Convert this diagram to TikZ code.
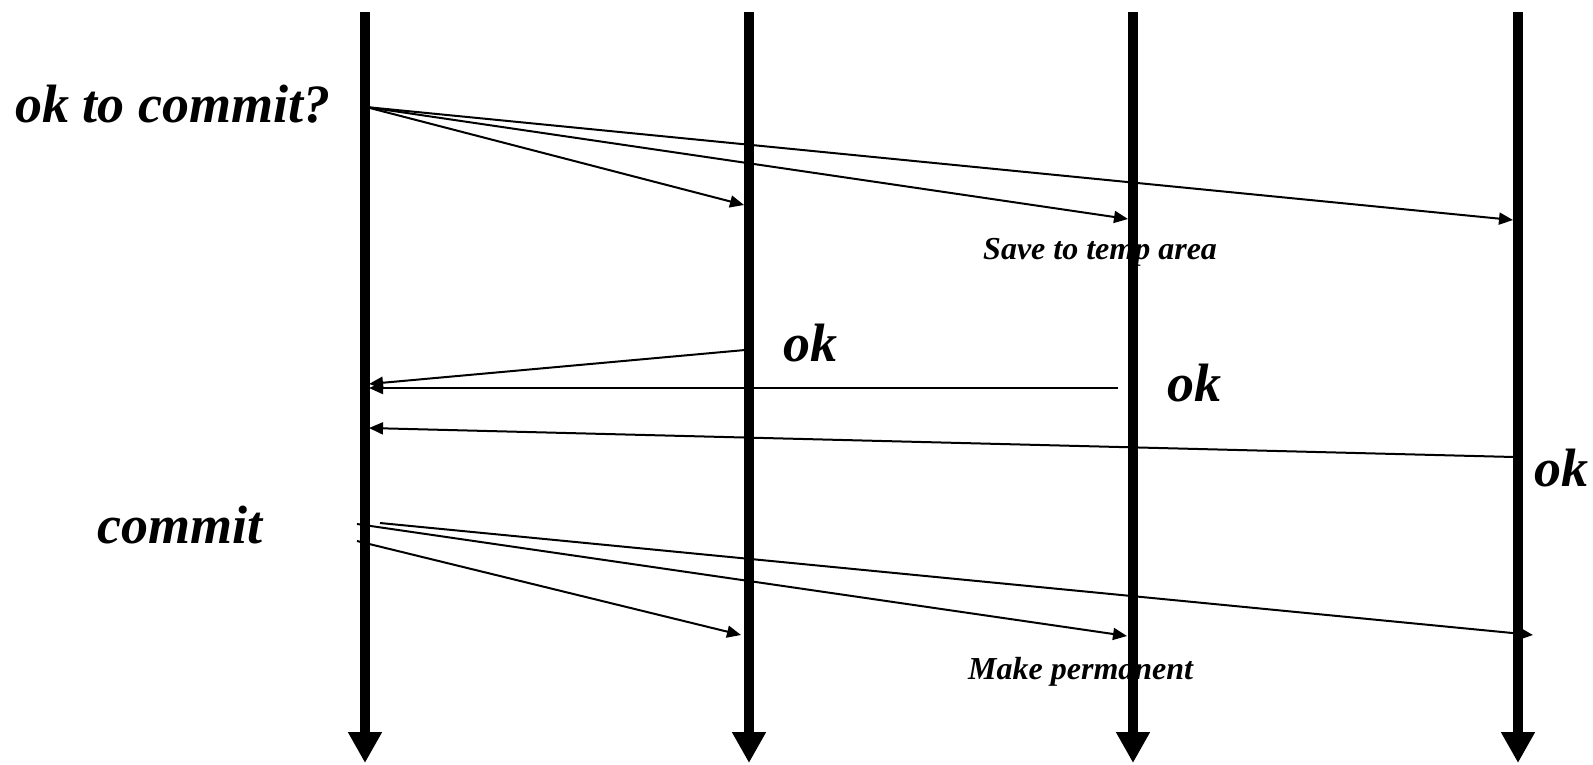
\documentclass[tikz,border=0pt]{standalone}
\usepackage{fontspec}
\setmainfont{Liberation Serif}
\usetikzlibrary{arrows.meta}
\begin{document}
\begin{tikzpicture}[x=1pt,y=-1pt,
  lifeline/.style={line width=10pt,-{Triangle[length=31pt,width=32pt]}},
  msg/.style={line width=2pt,-{Triangle[length=14pt,width=12pt]}},
  big/.style={font=\fontsize{54}{62}\selectfont\bfseries\itshape,inner sep=0pt},
  small/.style={font=\fontsize{32}{38}\selectfont\bfseries\itshape,inner sep=0pt}]
\useasboundingbox (0,0) rectangle (1593,764);
% labels
\node[big,anchor=base west] (lq) at (15,122) {ok to commit?};
\node[big,anchor=base west] (lok1) at (783,361) {ok};
\node[big,anchor=base west] (lok2) at (1167,401) {ok};
\node[big,anchor=base west] (lok3) at (1534,486) {ok};
\node[big,anchor=base west] (lc) at (97,543) {commit};
\node[small,anchor=base west] (ls) at (983,259) {Save to temp area};
\node[small,anchor=base west] (lm) at (968,679) {Make permanent};
% lifeline ends
\foreach \n/\x in {a/365,b/749,c/1133,d/1518}{
  \coordinate (\n top) at (\x,12);
  \coordinate (\n bot) at (\x,763);
}
% message end points
\coordinate (q0) at (366,107);
\coordinate (qb) at (744,205);
\coordinate (qc) at (1128,219);
\coordinate (qd) at (1513,220);
\coordinate (r1s) at (745,350);
\coordinate (r1e) at (369,384);
\coordinate (r2s) at (1118,388);
\coordinate (r2e) at (369,388);
\coordinate (r3s) at (1514,457);
\coordinate (r3e) at (369,428);
\coordinate (c1s) at (357,541);
\coordinate (c1e) at (741,635);
\coordinate (c2s) at (357,524);
\coordinate (c2e) at (1127,636);
\coordinate (c3s) at (380,523);
\coordinate (c3e) at (1533,635);
% messages
\draw[msg] (q0) -- (qb);
\draw[msg] (q0) -- (qc);
\draw[msg] (q0) -- (qd);
\draw[msg] (r1s) -- (r1e);
\draw[msg] (r2s) -- (r2e);
\draw[msg] (r3s) -- (r3e);
\draw[msg] (c1s) -- (c1e);
\draw[msg] (c2s) -- (c2e);
\draw[msg] (c3s) -- (c3e);
% lifelines
\foreach \n in {a,b,c,d}{
  \draw[lifeline] (\n top) -- (\n bot);
}
\end{tikzpicture}
\end{document}
